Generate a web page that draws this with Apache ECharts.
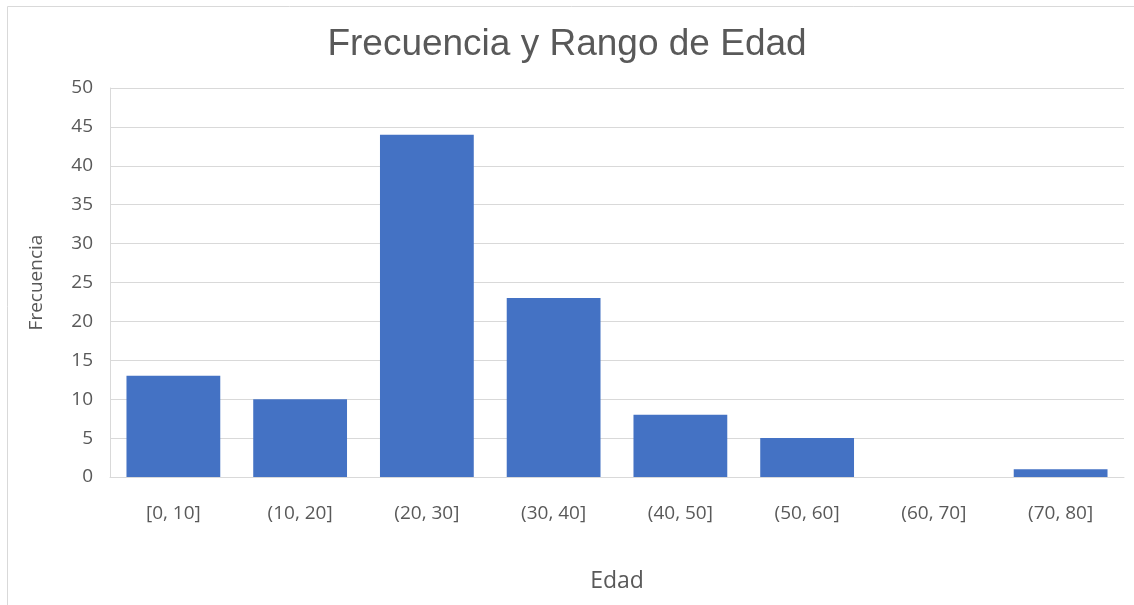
<!DOCTYPE html>
<html>
<head>
<meta charset="utf-8">
<script src="https://cdn.jsdelivr.net/npm/echarts@6/dist/echarts.min.js"></script>
<style>
  html, body { margin: 0; padding: 0; background: #fff; }
  #chart { width: 1134px; height: 605px; }
</style>
</head>
<body>
<div id="chart"></div>
<script>
  // rangos de edad y frecuencias
  var categorias = ['[0, 10]', '(10, 20]', '(20, 30]', '(30, 40]', '(40, 50]', '(50, 60]', '(60, 70]', '(70, 80]'];
  var frecuencias = [13, 10, 44, 23, 8, 5, 0, 1];

  var textColor = '#595959';
  var fontFam = '"Open Sans", Lato, sans-serif';

  var myChart = echarts.init(document.getElementById('chart'));
  var chartOption = {
    animation: false,
    title: {
      text: 'Frecuencia y Rango de Edad',
      left: 'center',
      top: 21,
      textStyle: {
        color: textColor,
        fontSize: 37,
        fontWeight: 'normal',
        fontFamily: '"Liberation Sans", Arial, sans-serif'
      }
    },
    graphic: [{
      type: 'rect',
      shape: { x: 7.5, y: 6.5, width: 1200, height: 700 },
      style: { fill: 'none', stroke: '#d9d9d9', lineWidth: 1 },
      silent: true
    }],
    grid: {
      left: 110,
      right: 10,
      top: 88,
      bottom: 128
    },
    xAxis: {
      type: 'category',
      data: categorias,
      name: 'Edad',
      nameLocation: 'middle',
      nameGap: 93,
      nameTextStyle: { color: textColor, fontSize: 23, fontFamily: fontFam },
      axisLine: { lineStyle: { color: '#d9d9d9' } },
      axisTick: { show: false },
      axisLabel: { color: textColor, fontSize: 19, margin: 27, fontFamily: fontFam, interval: 0 }
    },
    yAxis: {
      type: 'value',
      min: 0,
      max: 50,
      interval: 5,
      name: 'Frecuencia',
      nameLocation: 'middle',
      nameGap: 64,
      nameTextStyle: { color: textColor, fontSize: 19, fontFamily: fontFam },
      axisLine: { show: true, lineStyle: { color: '#d9d9d9' } },
      axisTick: { show: false },
      axisLabel: { color: textColor, fontSize: 19, margin: 17, fontFamily: fontFam },
      splitLine: { lineStyle: { color: '#d9d9d9' } }
    },
    series: [
      {
        name: 'Frecuencia',
        type: 'bar',
        data: frecuencias,
        barCategoryGap: '26%',
        itemStyle: { color: '#4472C4' }
      }
    ]
  };
  myChart.setOption(chartOption);
</script>
</body>
</html>
